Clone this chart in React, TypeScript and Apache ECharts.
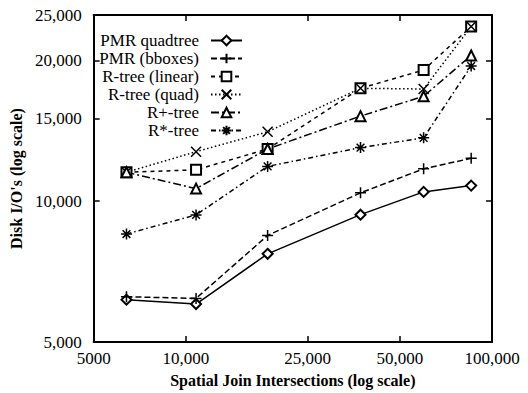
import React, { useEffect, useRef } from 'react';
import * as echarts from 'echarts';

const xValues = [6400, 10800, 18500, 37200, 59800, 85500];
const seriesNames = ['PMR quadtree', 'PMR (bboxes)', 'R-tree (linear)', 'R-tree (quad)', 'R+-tree', 'R*-tree'];
const pmrQuadtree = [6160, 6030, 7720, 9360, 10470, 10800];
const pmrBboxes = [6250, 6200, 8450, 10420, 11730, 12350];
const rtreeLinear = [11530, 11670, 12930, 17430, 19070, 23620];
const rtreeQuad = [11530, 12760, 14070, 17430, 17370, 23620];
const rplusTree = [11530, 10640, 12930, 15200, 16760, 20490];
const rstarTree = [8510, 9350, 11870, 13020, 13660, 19450];

const xTickValues = [5000, 10000, 25000, 50000, 100000];
const xTickLabels = ['5000', '10,000', '25,000', '50,000', '100,000'];
const yTickValues = [5000, 10000, 15000, 20000, 25000];
const yTickLabels = ['5,000', '10,000', '15,000', '20,000', '25,000'];

const L = (v: number) => Math.log10(v);

const labelFor = (ticks: number[], labels: string[]) => (v: number) => {
  let best = 0;
  for (let i = 0; i < ticks.length; i++) {
    if (Math.abs(L(ticks[i]) - v) < Math.abs(L(ticks[best]) - v)) best = i;
  }
  return labels[best];
};

const FONT = 'Liberation Serif';

export default function App() {
  const ref = useRef<HTMLDivElement>(null);
  useEffect(() => {
    if (!ref.current) return;
    const chart = echarts.init(ref.current, undefined, { renderer: 'svg' });
    const allData = [pmrQuadtree, pmrBboxes, rtreeLinear, rtreeQuad, rplusTree, rstarTree];
    const symbols = [
      'emptyDiamond',
      'path://M0,5L10,5M5,0L5,10',
      'emptyRect',
      'path://M0,0L10,10M10,0L0,10',
      'emptyTriangle',
      'path://M5,0L5,10M0,5L10,5M1.5,1.5L8.5,8.5M8.5,1.5L1.5,8.5',
    ];
    const sizes = [10, 11, 10, 10, 10, 11];
    const dashes: any[] = ['solid', [6, 3], [4, 4], [1.5, 2.5], [8, 3, 2, 3], [5, 3, 1.5, 3]];
    const xMin = L(xTickValues[0]);
    const xMax = L(xTickValues[xTickValues.length - 1]);
    const yMin = L(yTickValues[0]);
    const yMax = L(yTickValues[yTickValues.length - 1]);
    const axisLine = { show: true, lineStyle: { color: '#000', width: 2 } };
    const tickX = { show: true, inside: true, length: 6, lineStyle: { color: '#000', width: 1.5 }, customValues: xTickValues.map(L) };
    const tickY = { show: true, inside: true, length: 6, lineStyle: { color: '#000', width: 1.5 }, customValues: yTickValues.map(L) };
    chart.setOption({
      animation: false,
      backgroundColor: '#fff',
      grid: { left: 89, right: 36, top: 15, bottom: 47 },
      legend: {
        orient: 'vertical',
        align: 'right',
        right: 280,
        top: 27,
        itemWidth: 31,
        itemHeight: 12,
        itemGap: 1,
        data: seriesNames,
        textStyle: { fontFamily: FONT, fontSize: 17, color: '#000', padding: [0, 7, 0, 0], lineHeight: 17 },
      },
      xAxis: [
        {
          type: 'value',
          min: xMin,
          max: xMax,
          axisLine,
          axisTick: tickX,
          splitLine: { show: false },
          axisLabel: {
            customValues: xTickValues.map(L),
            formatter: labelFor(xTickValues, xTickLabels),
            fontFamily: FONT,
            fontSize: 17,
            color: '#000',
            margin: 8,
          },
          name: 'Spatial Join Intersections (log scale)',
          nameLocation: 'middle',
          nameGap: 27,
          nameTextStyle: { fontFamily: FONT, fontSize: 16, fontWeight: 'bold', color: '#000' },
        },
        {
          type: 'value',
          position: 'top',
          min: xMin,
          max: xMax,
          axisLine,
          axisTick: tickX,
          splitLine: { show: false },
          axisLabel: { show: false },
        },
      ],
      yAxis: [
        {
          type: 'value',
          min: yMin,
          max: yMax,
          axisLine,
          axisTick: tickY,
          splitLine: { show: false },
          axisLabel: {
            customValues: yTickValues.map(L),
            formatter: labelFor(yTickValues, yTickLabels),
            fontFamily: FONT,
            fontSize: 17,
            color: '#000',
            margin: 12,
          },
          name: "Disk I/O's (log scale)",
          nameLocation: 'middle',
          nameGap: 60,
          nameTextStyle: { fontFamily: FONT, fontSize: 16, fontWeight: 'bold', color: '#000' },
        },
        {
          type: 'value',
          position: 'right',
          min: yMin,
          max: yMax,
          axisLine,
          axisTick: tickY,
          splitLine: { show: false },
          axisLabel: { show: false },
        },
      ],
      series: seriesNames.map((name, i) => ({
        name,
        type: 'line',
        xAxisIndex: 0,
        yAxisIndex: 0,
        data: xValues.map((x, j) => [L(x), L(allData[i][j])]),
        symbol: symbols[i],
        symbolSize: sizes[i],
        symbolKeepAspect: true,
        showAllSymbol: true,
        lineStyle: { color: '#000', width: 1.5, type: dashes[i] },
        itemStyle: { color: '#000', borderColor: '#000', borderWidth: 1.5 },
        emphasis: { disabled: true },
      })),
    });
    return () => chart.dispose();
  }, []);
  return <div ref={ref} style={{ width: 528, height: 393, position: 'absolute', left: 0, top: 0 }} />;
}
